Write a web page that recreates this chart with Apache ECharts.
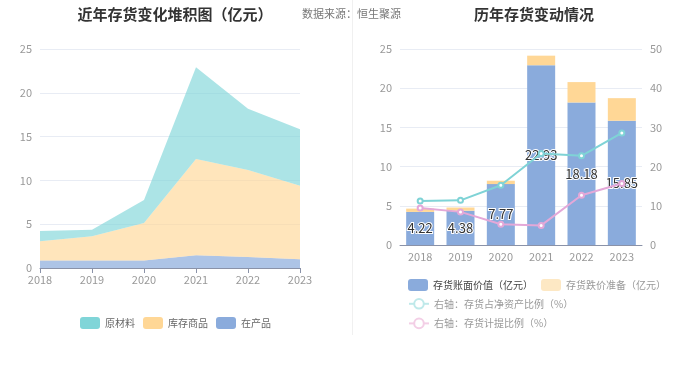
<!DOCTYPE html>
<html>
<head>
<meta charset="utf-8">
<script src="https://cdn.jsdelivr.net/npm/echarts@6/dist/echarts.min.js"></script>
<style>
  html, body { margin: 0; padding: 0; background: #fff; }
  #chart { width: 700px; height: 377px; }
</style>
</head>
<body>
<div id="chart"></div>
<script>
// 数据
const years = ['2018', '2019', '2020', '2021', '2022', '2023']
// 左图：堆积面积（亿元）
const zaiChanPin = [0.87, 0.87, 0.85, 1.45, 1.25, 1.0]
const kuCunShangPin = [2.18, 2.75, 4.3, 10.98, 9.95, 8.4]
const yuanCaiLiao = [1.17, 0.76, 2.62, 10.5, 6.98, 6.45]
// 右图
const bookValue = [4.22, 4.38, 7.77, 22.93, 18.18, 15.85]
const provision = [0.42, 0.4, 0.43, 1.22, 2.6, 2.88]
const netAssetRatio = [11.25, 11.4, 15.25, 23.35, 22.75, 28.6]
const provisionRatio = [9.45, 8.45, 5.3, 5.0, 12.7, 15.7]

const font = '"Noto Sans CJK SC", "Noto Sans", sans-serif'
const axisLabel = { color: '#999', fontSize: 11, fontFamily: font }
const splitLine = { show: true, lineStyle: { color: '#e8ecf4' } }

let myChart = echarts.init(document.getElementById('chart'))
myChart.setOption({
  animation: false,
  textStyle: { fontFamily: font },
  title: [
    {
      text: '近年存货变化堆积图（亿元）',
      left: 170, top: 2, textAlign: 'center',
      textStyle: { fontSize: 15, fontWeight: 'bold', color: '#333' }
    },
    {
      text: '数据来源：恒生聚源',
      left: 297, top: 3,
      textStyle: { fontSize: 11, fontWeight: 'normal', color: '#777' }
    },
    {
      text: '历年存货变动情况',
      left: 529, top: 2, textAlign: 'center',
      textStyle: { fontSize: 15, fontWeight: 'bold', color: '#333' }
    }
  ],
  graphic: [
    {
      type: 'line',
      shape: { x1: 352.5, y1: 0, x2: 352.5, y2: 335 },
      style: { stroke: '#f0f0f0', lineWidth: 1 }
    }
  ],
  legend: [
    {
      data: ['原材料', '库存商品', '在产品'],
      left: 75, top: 312,
      icon: 'roundRect',
      itemWidth: 20, itemHeight: 12, itemGap: 8,
      textStyle: { color: '#666', fontSize: 10 }
    },
    {
      data: [
        { name: '存货账面价值（亿元）', textStyle: { color: '#444' } },
        { name: '存货跌价准备（亿元）', itemStyle: { color: '#fde8c4' }, textStyle: { color: '#999' } }
      ],
      left: 403, top: 274, width: 297,
      icon: 'roundRect',
      itemWidth: 20, itemHeight: 12, itemGap: 8,
      textStyle: { fontSize: 10 }
    },
    {
      data: [
        {
          name: '右轴：存货占净资产比例（%）',
          itemStyle: { color: '#bfe9ea' },
          lineStyle: { color: '#bfe9ea' }
        },
        {
          name: '右轴：存货计提比例（%）',
          itemStyle: { color: '#f3cfe6' },
          lineStyle: { color: '#f3cfe6' }
        }
      ],
      orient: 'vertical',
      left: 403, top: 293,
      itemWidth: 20, itemHeight: 12, itemGap: 8,
      textStyle: { fontSize: 10, color: '#999' }
    }
  ],
  grid: [
    { left: 40, right: 400, top: 49, height: 219 },
    { left: 400, right: 58, top: 49, height: 196 }
  ],
  xAxis: [
    {
      type: 'category', gridIndex: 0, data: years, boundaryGap: false,
      axisLine: { lineStyle: { color: '#8a92a8' } },
      axisTick: { lineStyle: { color: '#8a92a8' } },
      axisLabel: { ...axisLabel, margin: 6 }
    },
    {
      type: 'category', gridIndex: 1, data: years,
      axisLine: { lineStyle: { color: '#8a92a8' } },
      axisTick: { show: false },
      axisLabel: { ...axisLabel, margin: 6 }
    }
  ],
  yAxis: [
    {
      type: 'value', gridIndex: 0, min: 0, max: 25, interval: 5,
      axisLabel: axisLabel, splitLine: splitLine
    },
    {
      type: 'value', gridIndex: 1, min: 0, max: 25, interval: 5,
      axisLabel: axisLabel, splitLine: splitLine
    },
    {
      type: 'value', gridIndex: 1, min: 0, max: 50, interval: 10, position: 'right',
      axisLabel: axisLabel, splitLine: { show: false }
    }
  ],
  series: [
    {
      name: '在产品', type: 'line', stack: 'a', xAxisIndex: 0, yAxisIndex: 0,
      data: zaiChanPin, symbol: 'none', itemStyle: { color: '#8aabdc' },
      lineStyle: { width: 0 }, areaStyle: { color: '#8aabdc', opacity: 0.7 }
    },
    {
      name: '库存商品', type: 'line', stack: 'a', xAxisIndex: 0, yAxisIndex: 0,
      data: kuCunShangPin, symbol: 'none', itemStyle: { color: '#ffd796' },
      lineStyle: { width: 0 }, areaStyle: { color: '#ffd796', opacity: 0.65 }
    },
    {
      name: '原材料', type: 'line', stack: 'a', xAxisIndex: 0, yAxisIndex: 0,
      data: yuanCaiLiao, symbol: 'none', itemStyle: { color: '#80d5d8' },
      lineStyle: { width: 0 }, areaStyle: { color: '#80d5d8', opacity: 0.65 }
    },
    {
      name: '存货账面价值（亿元）', type: 'bar', stack: 'b', xAxisIndex: 1, yAxisIndex: 1,
      data: bookValue, barWidth: 28, itemStyle: { color: '#8aabdc' },
      label: {
        show: true, position: 'inside', color: '#333', fontSize: 13,
        textBorderColor: '#fff', textBorderWidth: 2
      }
    },
    {
      name: '存货跌价准备（亿元）', type: 'bar', stack: 'b', xAxisIndex: 1, yAxisIndex: 1,
      data: provision, barWidth: 28, itemStyle: { color: '#ffd796' }
    },
    {
      name: '右轴：存货占净资产比例（%）', type: 'line', xAxisIndex: 1, yAxisIndex: 2,
      data: netAssetRatio, symbol: 'emptyCircle', symbolSize: 5,
      itemStyle: { color: '#7fd3d6' }, lineStyle: { color: '#7fd3d6', width: 2 }
    },
    {
      name: '右轴：存货计提比例（%）', type: 'line', xAxisIndex: 1, yAxisIndex: 2,
      data: provisionRatio, symbol: 'emptyCircle', symbolSize: 5,
      itemStyle: { color: '#e4a8d8' }, lineStyle: { color: '#e4a8d8', width: 2 }
    }
  ]
})
</script>
</body>
</html>
